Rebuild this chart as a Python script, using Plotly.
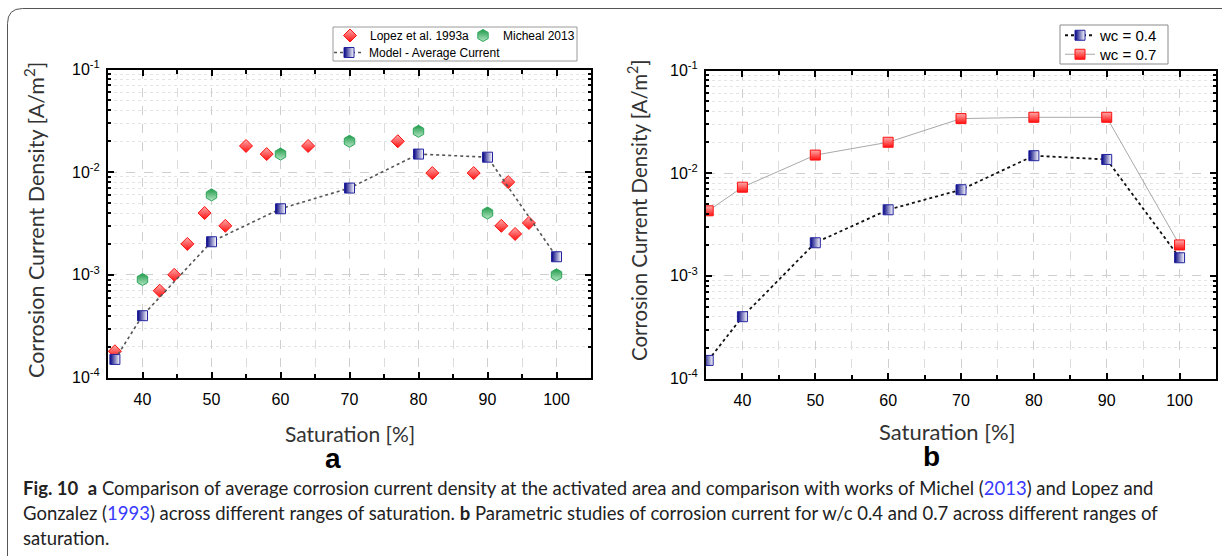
import plotly.graph_objects as go

W, H = 1222, 556

# ---------------- data ----------------
# Panel a
lopez_sat = [36, 42.5, 44.6, 46.5, 49, 52, 55, 58, 64, 77, 82, 88, 92, 93, 94, 96]
lopez_cur = [0.00018, 0.0007, 0.001, 0.002, 0.004, 0.003, 0.018, 0.015, 0.018, 0.020,
             0.0098, 0.0098, 0.003, 0.008, 0.0025, 0.0032]
michel_sat = [40, 50, 60, 70, 80, 90, 100]
michel_cur = [0.0009, 0.006, 0.015, 0.020, 0.025, 0.004, 0.001]
model_sat = [36, 40, 50, 60, 70, 80, 90, 100]
model_cur = [0.00015, 0.0004, 0.0021, 0.0044, 0.007, 0.015, 0.014, 0.0015]
# Panel b
wc_sat = [35.3, 40, 50, 60, 70, 80, 90, 100]
wc04_cur = [0.00015, 0.0004, 0.0021, 0.0044, 0.0069, 0.0148, 0.0136, 0.0015]
wc07_cur = [0.0043, 0.0073, 0.015, 0.020, 0.034, 0.035, 0.035, 0.002]

x_range = [35, 105]
y_tickvals = [1e-4, 1e-3, 1e-2, 1e-1]
y_ticktext = ["10<sup>-4</sup>", "10<sup>-3</sup>", "10<sup>-2</sup>", "10<sup>-1</sup>"]
y_minor = [m * v for v in [1e-4, 1e-3, 1e-2] for m in range(2, 10)]

x_title = "Saturation [%]"
y_title = "Corrosion Current Density [A/m<sup>2</sup>]"
caption_lines = [
    "<b>Fig. 10</b>&nbsp;&nbsp;<b>a</b> Comparison of average corrosion current density at the activated area and comparison with works of Michel (<span style='color:#3a3aff'>2013</span>) and Lopez and",
    "Gonzalez (<span style='color:#3a3aff'>1993</span>) across different ranges of saturation. <b>b</b> Parametric studies of corrosion current for w/c 0.4 and 0.7 across different ranges of",
    "saturation.",
]


def px(x):
    return x / W


def py(y):
    return 1 - y / H


RED_LIGHT, RED = "#ffaaaa", "#ff1010"
GREEN_DARK, GREEN_LIGHT = "#1e9a48", "#b4e6c4"
NAVY = "#000080"

fig = go.Figure()

# ---- panel a ----
fig.add_trace(go.Scatter(
    x=lopez_sat, y=lopez_cur, mode="markers", name="Lopez et al. 1993a",
    marker=dict(symbol="diamond", size=10, color=RED_LIGHT,
                gradient=dict(type="vertical", color=RED),
                line=dict(color=RED, width=1)),
    xaxis="x", yaxis="y", legend="legend"))
fig.add_trace(go.Scatter(
    x=michel_sat, y=michel_cur, mode="markers", name="Micheal 2013",
    marker=dict(symbol="hexagon", size=12, color=GREEN_DARK,
                gradient=dict(type="vertical", color=GREEN_LIGHT),
                line=dict(color="#2fa65a", width=1)),
    xaxis="x", yaxis="y", legend="legend"))
fig.add_trace(go.Scatter(
    x=model_sat, y=model_cur, mode="lines+markers", name="Model - Average Current",
    line=dict(color="#555555", width=1.6, dash="dot"),
    marker=dict(symbol="square", size=10, color=NAVY,
                gradient=dict(type="horizontal", color="#ffffff"),
                line=dict(color="#2323a0", width=1)),
    xaxis="x", yaxis="y", legend="legend2"))

# ---- panel b ----
fig.add_trace(go.Scatter(
    x=wc_sat, y=wc04_cur, mode="lines+markers", name="wc = 0.4",
    line=dict(color="#111111", width=1.8, dash="dot"),
    marker=dict(symbol="square", size=10, color=NAVY,
                gradient=dict(type="horizontal", color="#ffffff"),
                line=dict(color="#2323a0", width=1)),
    xaxis="x2", yaxis="y2", legend="legend3"))
fig.add_trace(go.Scatter(
    x=wc_sat, y=wc07_cur, mode="lines+markers", name="wc = 0.7",
    line=dict(color="#a8a8a8", width=1),
    marker=dict(symbol="square", size=10, color=RED_LIGHT,
                gradient=dict(type="vertical", color=RED),
                line=dict(color=RED, width=1)),
    xaxis="x2", yaxis="y2", legend="legend4"))

tickfont = dict(family="Liberation Sans, Arial, sans-serif", size=16, color="#000000")

xcommon = dict(
    range=x_range, tickmode="linear", tick0=0, dtick=10, ticks="inside", ticklen=6,
    tickwidth=1.5, tickcolor="#000", showline=True, linecolor="#000", linewidth=2,
    mirror="allticks", showgrid=True, gridcolor="#cfcfcf", griddash="dash", gridwidth=1,
    zeroline=False, tickfont=tickfont, ticklabelstandoff=6,
    minor=dict(tick0=0, dtick=5, ticks="inside", ticklen=4, tickcolor="#000",
               showgrid=True, gridcolor="#dcdcdc", griddash="dash", gridwidth=1),
)
ycommon = dict(
    type="log", range=[-4, -1], tickmode="array", tickvals=y_tickvals, ticktext=y_ticktext,
    ticks="inside", ticklen=6, tickwidth=1.5, tickcolor="#000", showline=True,
    linecolor="#000", linewidth=2, mirror="allticks", showgrid=True, gridcolor="#cfcfcf",
    griddash="dash", gridwidth=1, zeroline=False, tickfont=tickfont, ticklabelstandoff=3,
    minor=dict(tickmode="array", tickvals=y_minor, ticks="inside", ticklen=3,
               tickcolor="#000", showgrid=True, gridcolor="#e4e4e4", griddash="dot",
               gridwidth=1),
)

leg_a_font = dict(family="Liberation Sans, Arial", size=12, color="#000")
leg_b_font = dict(family="Liberation Sans, Arial", size=15, color="#000")
fig.update_layout(
    width=W, height=H, margin=dict(l=0, r=0, t=0, b=0, autoexpand=False),
    paper_bgcolor="white", plot_bgcolor="white",
    xaxis=dict(domain=[px(108), px(591)], anchor="y", **xcommon),
    yaxis=dict(domain=[py(377.5), py(69.5)], anchor="x", **ycommon),
    xaxis2=dict(domain=[px(706), px(1216)], anchor="y2", **xcommon),
    yaxis2=dict(domain=[py(378.5), py(70.5)], anchor="x2", **ycommon),
    legend=dict(x=px(330), y=py(21), xanchor="left", yanchor="top", orientation="h",
                bgcolor="rgba(0,0,0,0)", borderwidth=0, entrywidth=88,
                entrywidthmode="pixels", itemwidth=30, font=leg_a_font),
    legend2=dict(x=px(329), y=py(38), xanchor="left", yanchor="top", orientation="h",
                 bgcolor="rgba(0,0,0,0)", borderwidth=0, itemwidth=30, font=leg_a_font),
    legend3=dict(x=px(1060), y=py(19), xanchor="left", yanchor="top", orientation="v",
                 bgcolor="rgba(0,0,0,0)", borderwidth=0, itemwidth=30, font=leg_b_font),
    legend4=dict(x=px(1060), y=py(38), xanchor="left", yanchor="top", orientation="v",
                 bgcolor="rgba(0,0,0,0)", borderwidth=0, itemwidth=30, font=leg_b_font),
    showlegend=True,
)

shapes = []
# legend frames
shapes.append(dict(type="rect", xref="paper", yref="paper", x0=px(333), x1=px(577),
                   y0=py(61), y1=py(27), line=dict(color="#9a9a9a", width=1),
                   fillcolor="rgba(0,0,0,0)", layer="below"))
shapes.append(dict(type="rect", xref="paper", yref="paper", x0=px(1060), x1=px(1168),
                   y0=py(64), y1=py(25), line=dict(color="#8a8a8a", width=1),
                   fillcolor="white", layer="below"))
# outer rounded frame
r = 15
path = (f"M {px(7.5)},{py(560)} L {px(7.5)},{py(8.5 + r)} "
        f"Q {px(7.5)},{py(8.5)} {px(7.5 + r)},{py(8.5)} L {px(1230)},{py(8.5)}")
shapes.append(dict(type="path", xref="paper", yref="paper", path=path,
                   line=dict(color="#555555", width=1)))
fig.update_layout(shapes=shapes)

title_font = dict(family="Lato, Open Sans, sans-serif", size=21, color="#333333")
ann = []
ann.append(dict(text=x_title, x=px(350), y=py(433), xref="paper", yref="paper",
                showarrow=False, xanchor="center", yanchor="middle", font=title_font))
ann.append(dict(text=x_title, x=px(947), y=py(431), xref="paper", yref="paper",
                showarrow=False, xanchor="center", yanchor="middle",
                font=dict(title_font, size=22)))
ann.append(dict(text=y_title, x=px(34), y=py(220), xref="paper", yref="paper",
                showarrow=False, xanchor="center", yanchor="middle", textangle=-90,
                font=dict(title_font, size=21.5)))
ann.append(dict(text=y_title, x=px(637), y=py(210), xref="paper", yref="paper",
                showarrow=False, xanchor="center", yanchor="middle", textangle=-90,
                font=dict(title_font, size=20.5)))
ann.append(dict(text="<b>a</b>", x=px(333), y=py(458), xref="paper", yref="paper",
                showarrow=False, xanchor="center", yanchor="middle",
                font=dict(family="Liberation Sans, Arial", size=28, color="#000")))
ann.append(dict(text="<b>b</b>", x=px(932), y=py(456), xref="paper", yref="paper",
                showarrow=False, xanchor="center", yanchor="middle",
                font=dict(family="Liberation Sans, Arial", size=28, color="#000")))
for i, line in enumerate(caption_lines):
    ann.append(dict(text=line, x=px(21), y=py(488 + 25 * i), xref="paper", yref="paper",
                    showarrow=False, xanchor="left", yanchor="middle", align="left",
                    font=dict(family="Lato, sans-serif", size=18.5, color="#222222")))
fig.update_layout(annotations=ann)

fig.write_html("out.html")
